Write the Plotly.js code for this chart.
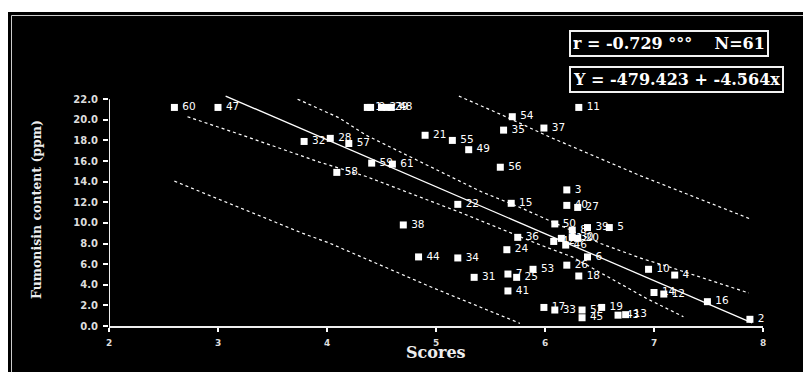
<!DOCTYPE html>
<html>
<head>
<meta charset="utf-8">
<script src="https://cdn.plot.ly/plotly-3.0.1.min.js"></script>
<style>
html,body{margin:0;padding:0;background:#ffffff;width:803px;height:372px;overflow:hidden;}
#chart{position:absolute;left:8px;top:12px;width:795px;height:360px;}
</style>
</head>
<body>
<div id="chart"></div>
<script>
// Sample ids and their (score, fumonisin ppm) values
const sampleIds = ["60","47","32","28","57","58","59","61",
  "1","9","23","29","48",
  "21","55","49","54","35","37","11","56",
  "3","40","27","15","22","38","50","8","39","5",
  "36","24","42","51","46","30","20","6","26","18",
  "53","7","25","41","31","34","44","17","33","52",
  "45","19","43","13","10","4","14","12","16","2"];
const scores = [2.60,3.00,3.79,4.03,4.20,4.09,4.41,4.60,
  4.37,4.40,4.50,4.55,4.59,
  4.90,5.15,5.30,5.70,5.62,5.99,6.31,5.59,
  6.20,6.20,6.30,5.69,5.20,4.70,6.09,6.25,6.39,6.59,
  5.75,5.65,6.08,6.15,6.19,6.25,6.30,6.39,6.20,6.31,
  5.89,5.66,5.74,5.66,5.35,5.20,4.84,5.99,6.09,6.34,
  6.34,6.52,6.67,6.74,6.95,7.19,7.00,7.09,7.49,7.88];
const fumonisin = [21.2,21.2,17.9,18.2,17.7,14.9,15.8,15.7,
  21.2,21.2,21.2,21.2,21.2,
  18.5,18.0,17.1,20.3,19.0,19.2,21.2,15.4,
  13.2,11.7,11.5,11.9,11.8,9.8,9.9,9.3,9.55,9.55,
  8.6,7.4,8.2,8.5,7.85,8.6,8.5,6.7,5.9,4.85,
  5.5,5.04,4.72,3.4,4.72,6.6,6.7,1.8,1.55,1.55,
  0.8,1.8,1.05,1.1,5.5,4.94,3.25,3.1,2.36,0.65];

// Regression line and band lines
const fitX = [3.07, 7.90];
const fitY = [22.3, 0.3];
const upperConfX = [3.73, 4.11, 4.36, 4.93, 5.42, 5.75, 6.13, 6.51, 6.90, 7.12, 7.87];
const upperConfY = [22.0, 20.2, 18.5, 15.5, 13.0, 11.6, 9.8, 8.0, 6.5, 5.8, 3.2];
const lowerConfX = [2.72, 3.17, 3.93, 4.36, 5.25, 5.96, 6.25, 6.72, 6.93, 7.27];
const lowerConfY = [20.3, 18.7, 15.9, 14.5, 10.9, 7.85, 6.7, 3.88, 2.68, 0.9];
const upperPredX = [5.21, 5.62, 6.05, 6.87, 7.88];
const upperPredY = [22.3, 20.4, 18.3, 14.6, 10.4];
const lowerPredX = [2.60, 3.78, 4.03, 4.95, 5.77];
const lowerPredY = [14.05, 8.98, 8.01, 3.8, 0.26];

const xTicks = [2,3,4,5,6,7,8];
const yTicks = [0,2,4,6,8,10,12,14,16,18,20,22];

const statText = "r = -0.729 °°°\u00a0\u00a0\u00a0\u00a0N=61";
const eqText = "Y = -479.423 + -4.564x";
const xTitle = "Scores";
const yTitle = "Fumonisin content (ppm)";

const SERIF = 'DejaVu Serif, Liberation Serif, serif';
const SANS = 'DejaVu Sans, Liberation Sans, sans-serif';

const dotLine = {color:'#ffffff', width:1.2, dash:'dot'};
function band(x, y){
  return {x:x, y:y, type:'scatter', mode:'lines', line:dotLine, hoverinfo:'skip', showlegend:false};
}

const traces = [
  band(upperPredX, upperPredY),
  band(lowerPredX, lowerPredY),
  band(upperConfX, upperConfY),
  band(lowerConfX, lowerConfY),
  {x:fitX, y:fitY, type:'scatter', mode:'lines', line:{color:'#ffffff', width:1.3}, showlegend:false},
  {x:scores, y:fumonisin, type:'scatter', mode:'markers+text', text:sampleIds,
   textposition:'middle right', cliponaxis:false,
   textfont:{family:SANS, size:10.5, color:'#ffffff'},
   marker:{symbol:'square', size:11, color:'rgba(0,0,0,0)'}, showlegend:false},
  {x:scores, y:fumonisin, type:'scatter', mode:'markers', cliponaxis:false,
   marker:{symbol:'square', size:7, color:'#ffffff', line:{width:0}}, showlegend:false}
];

// geometry of plot area (px inside the chart div)
const W = 795, H = 360, L = 101, R = 40, T = 81, B = 46;
const pw = W - L - R, ph = H - T - B;
function px2paperX(px){ return (px - L) / pw; }
function px2paperY(py){ return 1 - (py - T) / ph; }

const layout = {
  width: W, height: H,
  paper_bgcolor:'#000000', plot_bgcolor:'#000000',
  margin:{l:L, r:R, t:T, b:B, pad:0},
  showlegend:false,
  font:{family:SANS, color:'#ffffff'},
  xaxis:{range:[2,8], tickmode:'array', tickvals:xTicks, ticktext:xTicks.map(String),
    ticks:'outside', ticklen:4, tickwidth:2, tickcolor:'#ffffff',
    showline:true, linecolor:'#eeeeee', linewidth:2, showgrid:false, zeroline:false,
    ticklabelstandoff:3,
    tickfont:{family:SANS, size:9, weight:'bold', color:'#dddddd'},
    title:{text:''}},
  xaxis2:{overlaying:'x', anchor:'y', side:'bottom', range:[2,8], tickmode:'array', tickvals:xTicks,
    ticks:'inside', ticklen:3, tickwidth:2, tickcolor:'#ffffff', showticklabels:false,
    showline:false, showgrid:false, zeroline:false},
  yaxis:{range:[0,22.6], tickmode:'array', tickvals:yTicks, ticktext:yTicks.map(v=>v.toFixed(1)),
    ticks:'outside', ticklen:5, tickwidth:2, tickcolor:'#ffffff',
    showline:false, showgrid:false, zeroline:false, ticklabelstandoff:3,
    tickfont:{family:SANS, size:10, weight:'bold', color:'#dddddd'},
    title:{text:yTitle, font:{family:SERIF, size:12.5, weight:'bold', color:'#eeeeee'}, standoff:28}},
  yaxis2:{overlaying:'y', anchor:'x', side:'left', range:[0,22.6], tickmode:'array', tickvals:yTicks,
    ticks:'inside', ticklen:4, tickwidth:2, tickcolor:'#ffffff', showticklabels:false,
    showline:false, showgrid:false, zeroline:false},
  shapes:[
    {type:'line', xref:'x', yref:'y', x0:2, x1:2, y0:0, y1:22, line:{color:'#eeeeee', width:2}},
    {type:'rect', xref:'paper', yref:'paper', x0:px2paperX(3.5), x1:px2paperX(820), y0:px2paperY(380), y1:px2paperY(3.5),
     line:{color:'#cccccc', width:1}, fillcolor:'rgba(0,0,0,0)', layer:'below'}
  ],
  annotations:[
    {xref:'paper', yref:'paper', x:0.5, y:px2paperY(340), xanchor:'center', yanchor:'middle',
     text:xTitle, showarrow:false,
     font:{family:SERIF, size:16, weight:'bold', color:'#eeeeee'}},
    {xref:'paper', yref:'paper', x:px2paperX(561), y:px2paperY(31.5), xanchor:'left', yanchor:'middle',
     text:statText, showarrow:false, bgcolor:'#000000', bordercolor:'#f2f2f2', borderwidth:2, borderpad:2,
     font:{family:SERIF, size:16, weight:'bold', color:'#ffffff'}},
    {xref:'paper', yref:'paper', x:px2paperX(561), y:px2paperY(67.5), xanchor:'left', yanchor:'middle',
     text:eqText, showarrow:false, bgcolor:'#000000', bordercolor:'#f2f2f2', borderwidth:2, borderpad:2,
     font:{family:SERIF, size:16, weight:'bold', color:'#ffffff'}}
  ]
};

Plotly.newPlot('chart', traces, layout, {displayModeBar:false, staticPlot:true});
</script>
</body>
</html>
